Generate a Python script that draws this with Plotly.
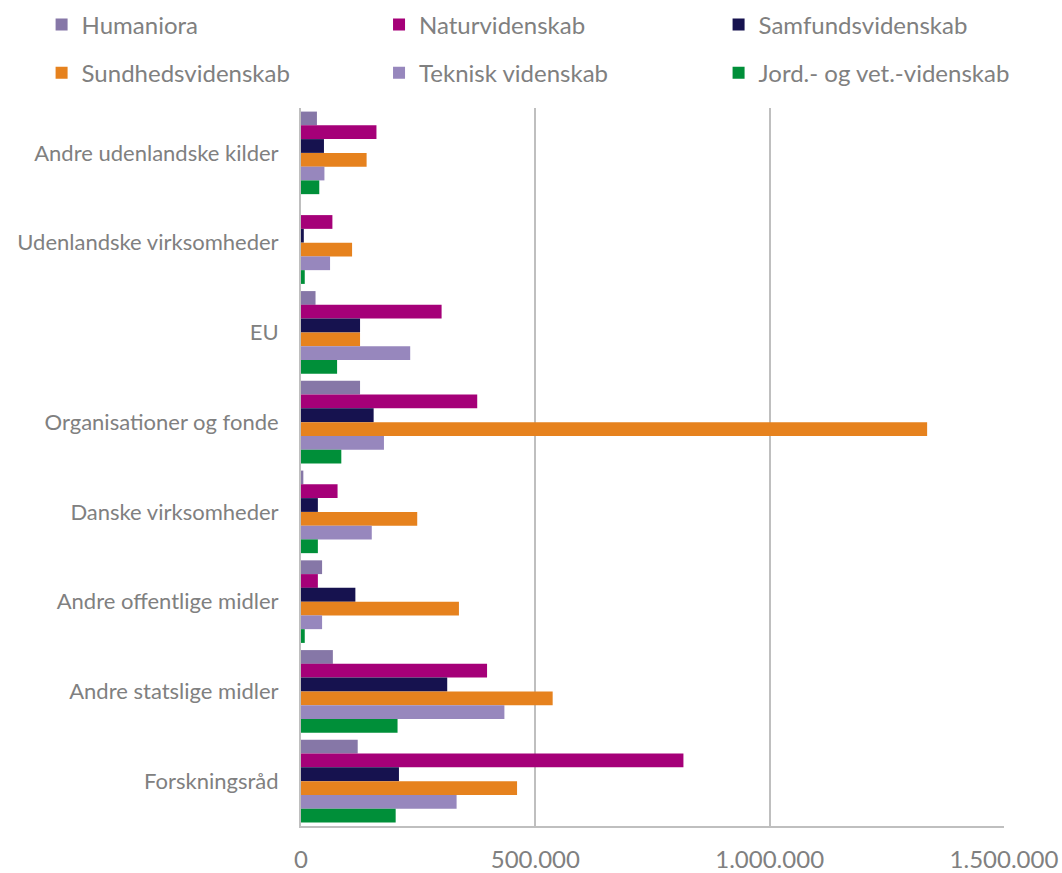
import plotly.graph_objects as go

# Funding sources, listed top to bottom as they appear on the chart
kilder = [
    "Andre udenlandske kilder",
    "Udenlandske virksomheder",
    "EU",
    "Organisationer og fonde",
    "Danske virksomheder",
    "Andre offentlige midler",
    "Andre statslige midler",
    "Forskningsråd",
]

# Values per main research area (same order as kilder)
humaniora = [34000, 0, 31000, 126000, 5000, 45000, 68000, 121000]
naturvidenskab = [161000, 67000, 300000, 376000, 78000, 36000, 397000, 816000]
samfundsvidenskab = [49000, 6000, 126000, 155000, 36000, 116000, 312000, 209000]
sundhedsvidenskab = [140000, 109000, 126000, 1336000, 248000, 337000, 537000, 461000]
teknisk_videnskab = [50000, 62000, 233000, 177000, 151000, 45000, 434000, 332000]
jord_vet_videnskab = [39000, 8000, 77000, 86000, 36000, 8000, 206000, 202000]

omraader = [
    ("Humaniora", humaniora, "#8677A7"),
    ("Naturvidenskab", naturvidenskab, "#A50078"),
    ("Samfundsvidenskab", samfundsvidenskab, "#16124F"),
    ("Sundhedsvidenskab", sundhedsvidenskab, "#E6821E"),
    ("Teknisk videnskab", teknisk_videnskab, "#9787BD"),
    ("Jord.- og vet.-videnskab", jord_vet_videnskab, "#008F39"),
]

x_ticks = [0, 500000, 1000000, 1500000]

FONT = "Lato, 'Open Sans', sans-serif"
GREY = "#808080"

# Legend grid above the plot: three columns, two rows (paper coordinates)
legend_cols = [-0.369, 0.111, 0.594]
legend_rows = [1.1156, 1.0487]

fig = go.Figure()
legend_layout = {}
for i, (navn, vaerdier, farve) in enumerate(omraader):
    legend_id = "legend" if i == 0 else f"legend{i + 1}"
    fig.add_trace(
        go.Bar(
            y=kilder,
            x=vaerdier,
            name=navn,
            orientation="h",
            marker=dict(color=farve, line=dict(width=0)),
            legend=legend_id,
            showlegend=True,
        )
    )
    legend_layout[legend_id] = dict(
        x=legend_cols[i % 3],
        y=legend_rows[i // 3],
        xanchor="left",
        yanchor="middle",
        orientation="h",
        font=dict(family=FONT, size=24, color=GREY),
        bgcolor="rgba(0,0,0,0)",
        itemclick=False,
        itemdoubleclick=False,
    )

fig.update_layout(
    width=1062,
    height=873,
    showlegend=True,
    barmode="group",
    bargap=0.08,
    bargroupgap=0,
    separators=",.",
    plot_bgcolor="white",
    paper_bgcolor="white",
    margin=dict(l=301, r=58, t=108, b=47, autoexpand=False),
    font=dict(family=FONT, size=22, color=GREY),
    xaxis=dict(
        range=[0, 1500000],
        tickvals=x_ticks,
        tickformat=",.0f",
        showgrid=True,
        gridcolor="#BFBFBF",
        gridwidth=2,
        zeroline=False,
        showline=True,
        linecolor="#BFBFBF",
        linewidth=2,
        ticks="",
        ticklabelstandoff=11,
        tickfont=dict(family=FONT, size=24, color=GREY),
        fixedrange=True,
    ),
    yaxis=dict(
        categoryorder="array",
        categoryarray=kilder,
        autorange="reversed",
        showgrid=False,
        zeroline=False,
        showline=True,
        linecolor="#BFBFBF",
        linewidth=2,
        ticks="",
        ticklabelstandoff=16,
        tickfont=dict(family=FONT, size=22, color=GREY),
        fixedrange=True,
    ),
    **legend_layout,
)

fig.write_html("out.html")
